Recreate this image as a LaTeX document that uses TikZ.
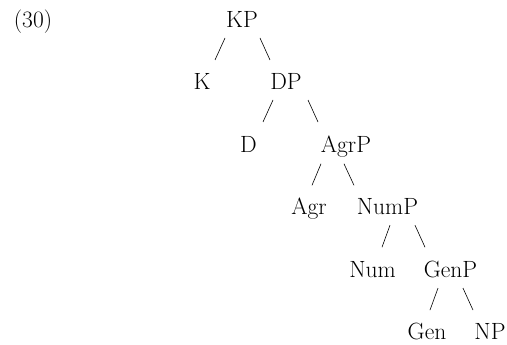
\documentclass[tikz,border=0pt]{standalone}
\usetikzlibrary{calc}
\begin{document}
\begin{tikzpicture}[x=1pt,y=-1pt,
  lbl/.style={anchor=base,inner sep=0pt,font=\fontsize{23.5}{28}\selectfont},
  br/.style={line width=0.6pt}]
\useasboundingbox (0,0) rectangle (507,345);
\node[lbl] (ex) at (33,27.5) {(30)};
\node[lbl] (kp) at (242,27.5) {KP};
\node[lbl] (k) at (202,90) {K};
\node[lbl] (dp) at (286,90) {DP};
\node[lbl] (d) at (248.5,152.3) {D};
\node[lbl] (agrp) at (346,152.3) {AgrP};
\node[lbl] (agr) at (309,214.7) {Agr};
\node[lbl] (nump) at (387.5,214.7) {NumP};
\node[lbl] (num) at (372.5,277.1) {Num};
\node[lbl] (genp) at (450.5,277.1) {GenP};
\node[lbl] (gen) at (427,339.5) {Gen};
\node[lbl] (np) at (490,339.5) {NP};
% branches
\draw[br] ($(kp.base)+(-17,10.5)$) -- ($(kp.base)+(-27,32.5)$);
\draw[br] ($(kp.base)+(18,10.5)$) -- ($(kp.base)+(28,32.5)$);
\draw[br] ($(dp.base)+(-13,10)$) -- ($(dp.base)+(-23,32)$);
\draw[br] ($(dp.base)+(22,10)$) -- ($(dp.base)+(32,32)$);
\draw[br] ($(agrp.base)+(-25,11.5)$) -- ($(agrp.base)+(-34,33)$);
\draw[br] ($(agrp.base)+(-2,11.5)$) -- ($(agrp.base)+(8,33)$);
\draw[br] ($(nump.base)+(2.5,10.5)$) -- ($(nump.base)+(-5.5,32.5)$);
\draw[br] ($(nump.base)+(27.5,10.5)$) -- ($(nump.base)+(37.5,32.5)$);
\draw[br] ($(genp.base)+(-12.5,11)$) -- ($(genp.base)+(-20.5,33)$);
\draw[br] ($(genp.base)+(12.5,11)$) -- ($(genp.base)+(22.5,33)$);
\end{tikzpicture}
\end{document}
